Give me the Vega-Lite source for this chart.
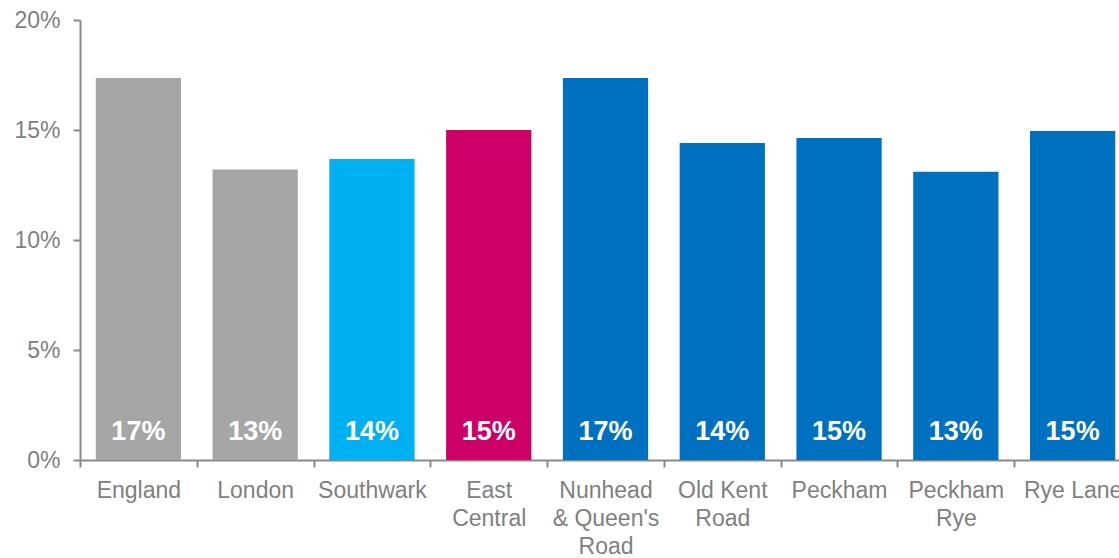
{
  "$schema": "https://vega.github.io/schema/vega-lite/v6.json",
  "width": 1051,
  "height": 440,
  "autosize": {"type": "none"},
  "padding": {"left": 80, "top": 20, "right": 0, "bottom": 98},
  "background": "white",
  "config": {
    "view": {"stroke": null},
    "font": "Liberation Sans"
  },
  "data": {
    "values": [
      {"area": "England", "value": 0.1736, "group": "g"},
      {"area": "London", "value": 0.132, "group": "g"},
      {"area": "Southwark", "value": 0.1368, "group": "s"},
      {"area": "East|Central", "value": 0.15, "group": "e"},
      {"area": "Nunhead|& Queen's|Road", "value": 0.1736, "group": "w"},
      {"area": "Old Kent|Road", "value": 0.1441, "group": "w"},
      {"area": "Peckham", "value": 0.1464, "group": "w"},
      {"area": "Peckham|Rye", "value": 0.131, "group": "w"},
      {"area": "Rye Lane", "value": 0.1495, "group": "w"}
    ]
  },
  "encoding": {
    "x": {
      "field": "area",
      "type": "nominal",
      "sort": null,
      "scale": {"paddingInner": 0, "paddingOuter": 0},
      "axis": {
        "title": null,
        "labelAngle": 0,
        "labelExpr": "datum.value ? split(datum.value, '|') : ''",
        "labelLineHeight": 28,
        "labelFontSize": 23,
        "labelColor": "#808080",
        "labelPadding": 12,
        "labelLimit": 0,
        "labelBaseline": "top",
        "domainColor": "#898989",
        "domainWidth": 2,
        "tickColor": "#898989",
        "tickWidth": 2,
        "tickSize": 7,
        "tickBand": "extent"
      }
    }
  },
  "layer": [
    {
      "mark": {"type": "bar", "width": {"band": 0.73}},
      "encoding": {
        "y": {
          "field": "value",
          "type": "quantitative",
          "scale": {"domain": [0, 0.2]},
          "axis": {
            "title": null,
            "format": ".0%",
            "values": [0, 0.05, 0.1, 0.15, 0.2],
            "grid": false,
            "labelFontSize": 23,
            "labelColor": "#808080",
            "labelPadding": 13,
            "domainColor": "#898989",
            "domainWidth": 2,
            "tickColor": "#898989",
            "tickWidth": 2,
            "tickSize": 7
          }
        },
        "color": {
          "field": "group",
          "type": "nominal",
          "legend": null,
          "scale": {
            "domain": ["g", "s", "e", "w"],
            "range": ["#A6A6A6", "#00B0F0", "#CC0066", "#0070C0"]
          }
        }
      }
    },
    {
      "mark": {"type": "text", "color": "white", "fontWeight": "bold", "fontSize": 27, "baseline": "middle", "dy": -28},
      "encoding": {
        "y": {"datum": 0, "type": "quantitative"},
        "text": {"field": "value", "type": "quantitative", "format": ".0%"}
      }
    }
  ]
}
